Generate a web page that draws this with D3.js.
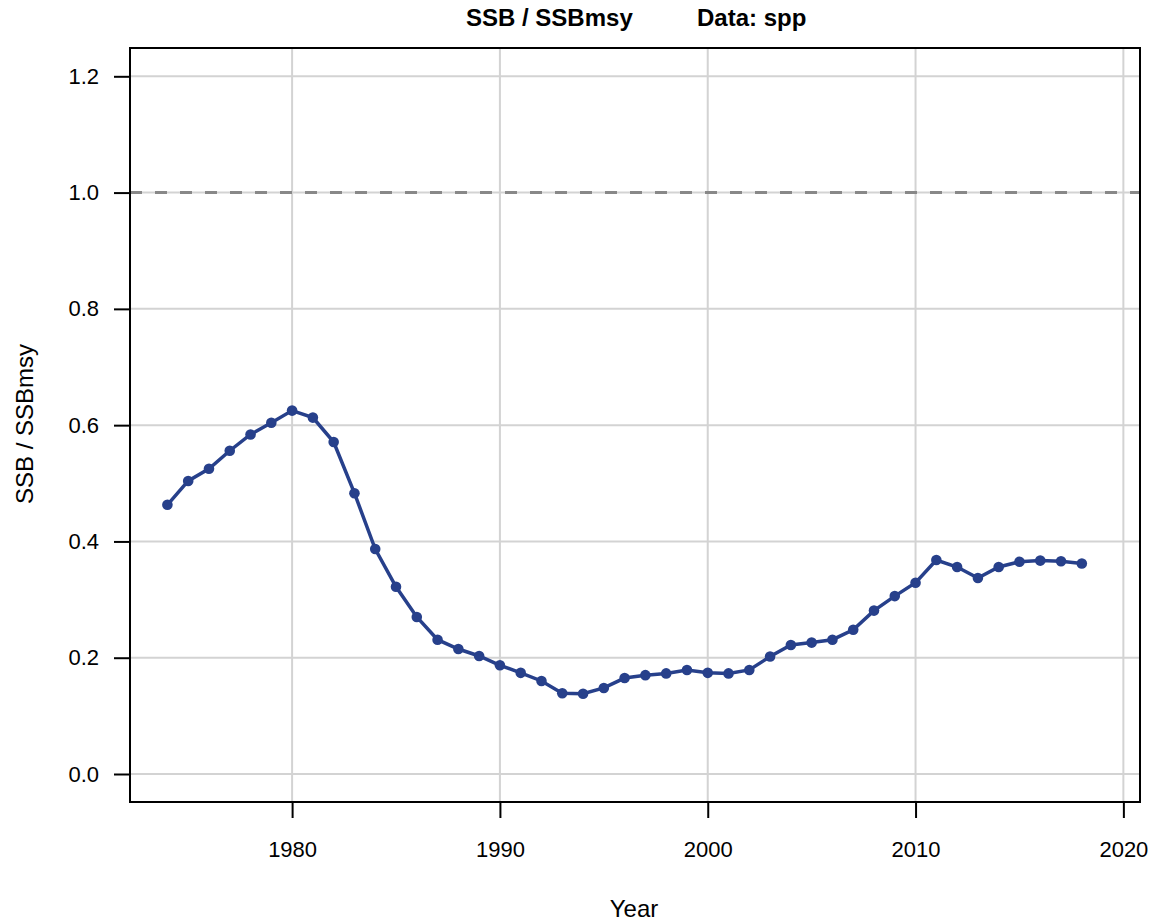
<!DOCTYPE html>
<html><head><meta charset="utf-8">
<script src="https://cdn.jsdelivr.net/npm/d3@7"></script>
<style>body{margin:0;background:#fff}svg{display:block;font-family:"Liberation Sans",Arial,sans-serif}</style>
</head><body><svg id="c" width="1153" height="922"></svg>
<script>
const years = d3.range(1974, 2019);
const ratio = [0.463,0.504,0.525,0.556,0.584,0.604,0.625,0.613,0.571,0.483,0.387,0.322,0.270,0.231,0.215,0.203,0.187,0.174,0.160,0.139,0.138,0.148,0.165,0.170,0.173,0.179,0.174,0.173,0.179,0.202,0.222,0.226,0.231,0.248,0.281,0.306,0.329,0.368,0.356,0.337,0.356,0.365,0.367,0.366,0.362];
const xTicks = [1980,1990,2000,2010,2020];
const yTicks = [0.0,0.2,0.4,0.6,0.8,1.0,1.2];
const refLine = 1.0;
const titleParts = ["SSB / SSBmsy", "Data: spp"];

const svg = d3.select("#c");
const L=130,R=1140,T=48,B=802;
const x = d3.scaleLinear().domain([1972.2,2020.8]).range([L,R]);
const y = d3.scaleLinear().domain([0,1.2]).range([774,76.3]);

const g = svg.append("g");
// grid
g.selectAll(".gx").data(xTicks).enter().append("line")
 .attr("x1",d=>x(d)).attr("x2",d=>x(d)).attr("y1",T).attr("y2",B)
 .attr("stroke","#d3d3d3").attr("stroke-width",2);
g.selectAll(".gy").data(yTicks).enter().append("line")
 .attr("x1",L).attr("x2",R).attr("y1",d=>y(d)).attr("y2",d=>y(d))
 .attr("stroke","#d3d3d3").attr("stroke-width",2);
// ref line
g.append("line").attr("x1",L).attr("x2",R).attr("y1",y(refLine)).attr("y2",y(refLine))
 .attr("stroke","#888888").attr("stroke-width",3).attr("stroke-dasharray","12,13");
// frame
g.append("rect").attr("x",L).attr("y",T).attr("width",R-L).attr("height",B-T)
 .attr("fill","none").attr("stroke","#000").attr("stroke-width",2);
// axes
const xa = svg.append("g").attr("transform",`translate(0,${B})`)
 .call(d3.axisBottom(x).tickValues(xTicks).tickFormat(d3.format("d")).tickSize(16).tickPadding(23));
xa.select(".domain").remove();
xa.selectAll("line").attr("stroke-width",2);
xa.selectAll("text").attr("font-size",22).attr("fill","#000");
const ya = svg.append("g").attr("transform",`translate(${L},0)`)
 .call(d3.axisLeft(y).tickValues(yTicks).tickFormat(d3.format(".1f")).tickSize(16).tickPadding(15));
ya.select(".domain").remove();
ya.selectAll("line").attr("stroke-width",2);
ya.selectAll("text").attr("font-size",22).attr("fill","#000");
// line
const data = years.map((yr,i)=>({yr,v:ratio[i]}));
svg.append("path").datum(data).attr("fill","none").attr("stroke","#27408B").attr("stroke-width",3.5)
 .attr("d",d3.line().x(d=>x(d.yr)).y(d=>y(d.v)));
svg.selectAll(".pt").data(data).enter().append("circle")
 .attr("cx",d=>x(d.yr)).attr("cy",d=>y(d.v)).attr("r",5.3).attr("fill","#27408B");
// labels
svg.append("text").attr("x",466).attr("y",26).attr("font-size",24).attr("font-weight","bold").text(titleParts[0]);
svg.append("text").attr("x",697).attr("y",26).attr("font-size",24).attr("font-weight","bold").text(titleParts[1]);
svg.append("text").attr("x",634).attr("y",917).attr("text-anchor","middle").attr("font-size",24).text("Year");
svg.append("text").attr("transform","translate(33,424) rotate(-90)").attr("text-anchor","middle").attr("font-size",24).text("SSB / SSBmsy");
</script></body></html>
